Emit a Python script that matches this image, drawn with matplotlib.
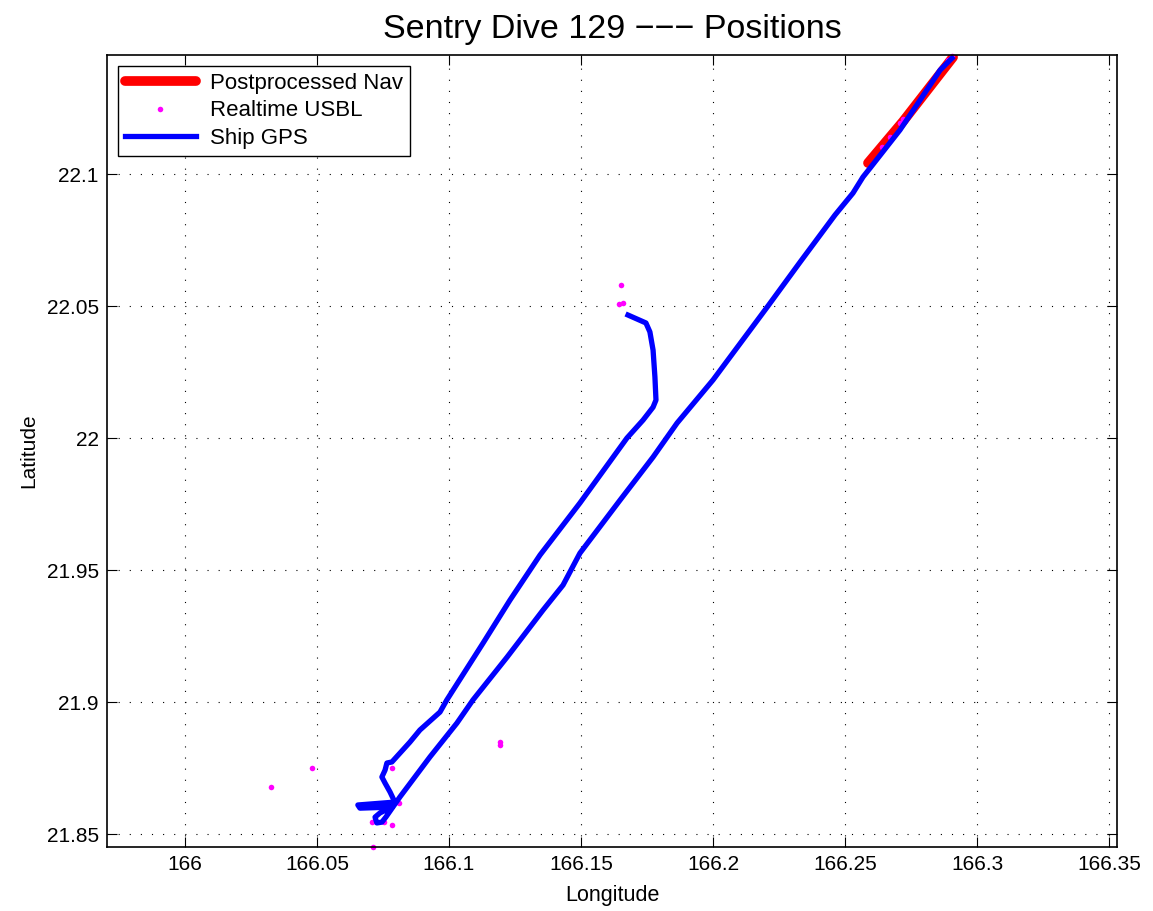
import matplotlib

matplotlib.use("Agg")
import matplotlib.pyplot as plt  # noqa: E402

plt.rcParams.update({"font.family": ["Liberation Sans", "DejaVu Sans"], "font.size": 15})

# Ship GPS track (lon, lat)
gps_lon = [166.1678, 166.1746, 166.1761, 166.1773, 166.1780, 166.1784, 166.1773, 166.1735,
           166.1674, 166.1496, 166.1345, 166.1307, 166.1231, 166.1129, 166.0992, 166.0966,
           166.0890, 166.0852, 166.0784, 166.0765, 166.0758, 166.0746, 166.0758, 166.0777,
           166.0795, 166.0655, 166.0663, 166.0784, 166.0739, 166.0720, 166.0727, 166.0746,
           166.0761, 166.0814, 166.0928, 166.1030, 166.1091, 166.1220, 166.1356, 166.1432,
           166.1496, 166.1648, 166.1773, 166.1864, 166.2000, 166.2208, 166.2330, 166.2462,
           166.2530, 166.2568, 166.2595, 166.2708, 166.2784, 166.2860, 166.2905]
gps_lat = [22.0466, 22.0436, 22.0402, 22.0333, 22.0231, 22.0144, 22.0117, 22.0068,
           22.0000, 21.9754, 21.9557, 21.9500, 21.9386, 21.9223, 21.9008, 21.8962,
           21.8894, 21.8848, 21.8773, 21.8769, 21.8742, 21.8716, 21.8693, 21.8659,
           21.8621, 21.8610, 21.8598, 21.8602, 21.8580, 21.8564, 21.8542, 21.8545,
           21.8564, 21.8640, 21.8792, 21.8920, 21.9008, 21.9170, 21.9348, 21.9443,
           21.9564, 21.9765, 21.9928, 22.0057, 22.0220, 22.0500, 22.0667, 22.0845,
           22.0928, 22.0989, 22.1023, 22.1167, 22.1280, 22.1394, 22.1439]

# Postprocessed navigation
nav_lon = [166.2587, 166.2720, 166.2909]
nav_lat = [22.1042, 22.1200, 22.1443]

# Realtime USBL fixes
usbl_lon = [166.0326, 166.0481, 166.1193, 166.1193, 166.1652, 166.1644, 166.1659,
            166.0784, 166.0811, 166.0708, 166.0754, 166.0784, 166.0712,
            166.2640, 166.2670, 166.2708, 166.2720, 166.2905, 166.2890]
usbl_lat = [21.8678, 21.8750, 21.8848, 21.8837, 22.0580, 22.0508, 22.0511,
            21.8750, 21.8617, 21.8545, 21.8545, 21.8534, 21.8451,
            22.1102, 22.1140, 22.1193, 22.1208, 22.1447, 22.1432]

x_ticks = [166.0, 166.05, 166.1, 166.15, 166.2, 166.25, 166.3, 166.35]
x_labels = ["166", "166.05", "166.1", "166.15", "166.2", "166.25", "166.3", "166.35"]
y_ticks = [21.85, 21.9, 21.95, 22.0, 22.05, 22.1]
y_labels = ["21.85", "21.9", "21.95", "22", "22.05", "22.1"]

fig = plt.figure(figsize=(11.53, 9.11), dpi=100)
ax = fig.add_axes([0.0928, 0.0703, 0.876, 0.8693])

ax.plot(nav_lon, nav_lat, color="red", lw=7, solid_capstyle="round", label="Postprocessed Nav")
ax.plot(usbl_lon, usbl_lat, "o", color="magenta", ms=4, mec="none", clip_on=False,
        label="Realtime USBL")
ax.plot(gps_lon, gps_lat, color="blue", lw=3.8, solid_joinstyle="round", label="Ship GPS")

ax.set_xlim(165.9705, 166.353)
ax.set_ylim(21.8451, 22.1451)
ax.set_xticks(x_ticks)
ax.set_xticklabels(x_labels)
ax.set_yticks(y_ticks)
ax.set_yticklabels(y_labels)
ax.tick_params(direction="in", length=7, width=0.8, top=True, right=True, labelsize=15, pad=6)
ax.grid(True, color="black", linestyle=(0, (1, 9)), lw=0.8)
for s in ax.spines.values():
    s.set_linewidth(1.2)

ax.set_xlabel("Longitude", fontsize=15.5, labelpad=8)
ax.set_ylabel("Latitude", fontsize=15, labelpad=6)
ax.set_title("Sentry Dive 129 \u2212\u2212\u2212 Positions", fontsize=24.5, pad=12)

leg = ax.legend(loc="upper left", fontsize=16, handlelength=3.2, borderaxespad=0.5,
                labelspacing=0.3, handletextpad=0.65, borderpad=0.3)
leg.get_frame().set_edgecolor("black")
leg.get_frame().set_linewidth(1.0)
leg.get_frame().set_boxstyle("square", pad=0)
leg.get_frame().set_alpha(1)

fig.savefig("out.png", dpi=100)
